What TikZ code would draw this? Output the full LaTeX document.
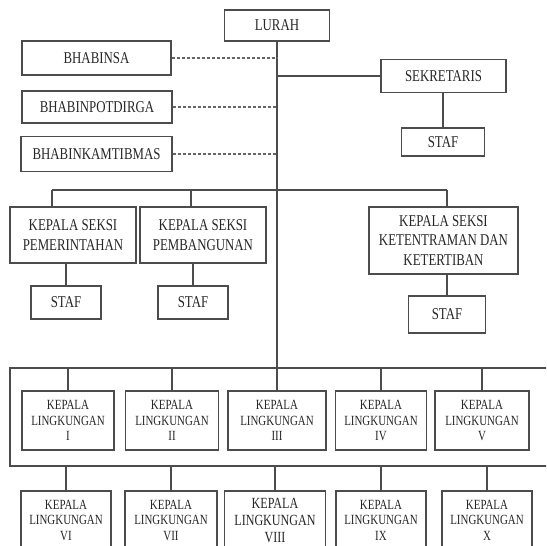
\documentclass[tikz,border=0pt]{standalone}
\usepackage{fontspec}
\setmainfont{Liberation Serif}[FakeStretch=0.78]
\begin{document}
\begin{tikzpicture}[x=1pt,y=-1pt,
  line/.style={draw=black!70,line width=1.4pt},
  dline/.style={draw=black!60,line width=1.4pt,dash pattern=on 3pt off 2pt},
  box/.style={line,rectangle,inner sep=0pt,align=center,text=black!85,
    font=\fontsize{16.5}{19.5}\selectfont},
  lbox/.style={box,font=\fontsize{14}{15.5}\selectfont,minimum width=92pt},
  lbox8/.style={box,font=\fontsize{15.5}{17}\selectfont}]
\useasboundingbox (0,0) rectangle (546,546);
\clip (0,0) rectangle (546,546);
% top
\node[box,minimum width=105pt,minimum height=31pt] (lurah) at (277,25.5) {LURAH};
\node[box,minimum width=149pt,minimum height=34pt] (bhabinsa) at (96.5,58) {BHABINSA};
\node[box,minimum width=150pt,minimum height=32pt] (bhabinpot) at (97,107) {BHABINPOTDIRGA};
\node[box,minimum width=151pt,minimum height=35pt] (bhabinkam) at (96.5,154) {BHABINKAMTIBMAS};
\node[box,minimum width=125pt,minimum height=33pt] (sek) at (443.5,76) {SEKRETARIS};
\node[box,minimum width=83pt,minimum height=28pt] (stafs) at (443,142) {STAF};
% kepala seksi
\node[box,minimum width=126pt,minimum height=56pt] (kspem) at (73,235) {KEPALA SEKSI\\PEMERINTAHAN};
\node[box,minimum width=126pt,minimum height=56pt] (ksbang) at (203,235) {KEPALA SEKSI\\PEMBANGUNAN};
\node[box,minimum width=149pt,minimum height=67pt] (ksten) at (443.5,240.5) {KEPALA SEKSI\\KETENTRAMAN DAN\\KETERTIBAN};
\node[box,minimum width=70pt,minimum height=33pt] (staf1) at (66,302.5) {STAF};
\node[box,minimum width=70pt,minimum height=33pt] (staf2) at (193,302.5) {STAF};
\node[box,minimum width=77pt,minimum height=37pt] (staf3) at (447,314.5) {STAF};
% lingkungan row 1
\node[lbox,minimum height=59pt] (l1) at (68,420.5) {KEPALA\\LINGKUNGAN\\I};
\node[lbox,minimum width=93pt,minimum height=59pt] (l2) at (172,420.5) {KEPALA\\LINGKUNGAN\\II};
\node[lbox,minimum width=98pt,minimum height=59pt] (l3) at (277,420.5) {KEPALA\\LINGKUNGAN\\III};
\node[lbox,minimum width=91pt,minimum height=59pt] (l4) at (381,420.5) {KEPALA\\LINGKUNGAN\\IV};
\node[lbox,minimum width=94pt,minimum height=59pt] (l5) at (482,420.5) {KEPALA\\LINGKUNGAN\\V};
% lingkungan row 2
\node[lbox,minimum width=90pt,minimum height=58pt] (l6) at (66,520) {KEPALA\\LINGKUNGAN\\VI};
\node[lbox,minimum width=92pt,minimum height=58pt] (l7) at (171,520) {KEPALA\\LINGKUNGAN\\VII};
\node[lbox8,minimum width=101pt,minimum height=58pt] (l8) at (275,520) {KEPALA\\LINGKUNGAN\\VIII};
\node[lbox,minimum width=90pt,minimum height=58pt] (l9) at (381,520) {KEPALA\\LINGKUNGAN\\IX};
\node[lbox,minimum width=90pt,minimum height=58pt] (l10) at (487,520) {KEPALA\\LINGKUNGAN\\X};
% trunk
\draw[line] (lurah.south) -- (l3.north);
% dashed
\draw[dline] (bhabinsa.east) -- (bhabinsa.east -| lurah.south);
\draw[dline] (bhabinpot.east) -- (bhabinpot.east -| lurah.south);
\draw[dline] (bhabinkam.east) -- (bhabinkam.east -| lurah.south);
% sekretaris
\draw[line] (sek.west) -- (sek.west -| lurah.south);
\draw[line] (stafs.north |- sek.south) -- (stafs.north);
% seksi bar
\coordinate (b1) at (52,190);
\coordinate (b2) at (191,190);
\coordinate (b3) at (447,190);
\draw[line] (b1) -- (b3);
\draw[line] (b1) -- (b1 |- kspem.north);
\draw[line] (b2) -- (b2 |- ksbang.north);
\draw[line] (b3) -- (b3 |- ksten.north);
\draw[line] (staf1.north) -- (staf1.north |- kspem.south);
\draw[line] (staf2.north) -- (staf2.north |- ksbang.south);
\draw[line] (staf3.north) -- (staf3.north |- ksten.south);
% lingkungan bars
\coordinate (rl) at (10,368);
\coordinate (rr) at (548,368);
\coordinate (sl) at (10,466);
\coordinate (sr) at (548,466);
\draw[line] (rr) -- (rl) -- (sl) -- (sr);
\foreach \n in {l1,l2,l4,l5}{\draw[line] (\n.north) -- (\n.north |- rl);}
\foreach \n in {l6,l7,l8,l9,l10}{\draw[line] (\n.north) -- (\n.north |- sl);}
\end{tikzpicture}
\end{document}
